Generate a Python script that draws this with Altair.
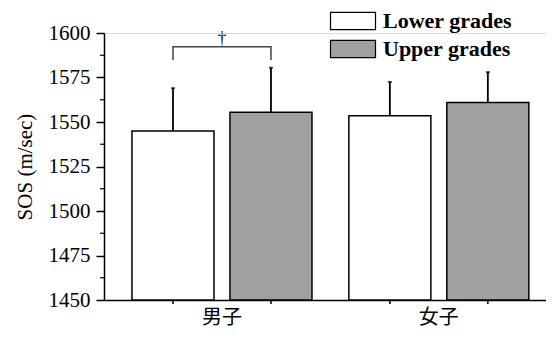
import altair as alt
import pandas as pd

groups = ["男子", "男子", "女子", "女子"]
grades = ["Lower grades", "Upper grades", "Lower grades", "Upper grades"]
means = [1545.0, 1555.5, 1553.5, 1561.0]
sds = [24.0, 25.0, 19.0, 17.0]

group_order = ["男子", "女子"]
grade_order = ["Lower grades", "Upper grades"]
fill_colors = ["#ffffff", "#a0a0a0"]

y_ticks = [1450, 1475, 1500, 1525, 1550, 1575, 1600]
y_minor = [1462.5, 1487.5, 1512.5, 1537.5, 1562.5, 1587.5]
y_base = 1450

# significance bracket between the two boys' bars
br_group = ["男子", "男子", "男子", "男子"]
br_grade = ["Lower grades", "Lower grades", "Upper grades", "Upper grades"]
br_y = [1584.8, 1592.3, 1592.3, 1584.8]
br_order = [0, 1, 2, 3]
sig_label = ["†"]
sig_group = ["男子"]
sig_y = [1594.0]

W, H = 442, 267
FONT = "Liberation Serif"

df = pd.DataFrame({"group": groups, "grade": grades, "mean": means, "sd": sds})
df["top"] = df["mean"] + df["sd"]
df_minor = pd.DataFrame({"v": y_minor})
df_br = pd.DataFrame({"group": br_group, "grade": br_grade, "y": br_y, "o": br_order})
df_sig = pd.DataFrame({"group": sig_group, "label": sig_label, "y": sig_y})

x_enc = alt.X("group:N", sort=group_order, title=None,
              scale=alt.Scale(paddingInner=0.17, paddingOuter=0.104, align=0.62),
              axis=alt.Axis(labelAngle=0, ticks=False, labelFont="Noto Sans CJK JP",
                            labelFontSize=20, labelColor="black", labelPadding=7,
                            labelBaseline="top",
                            domainColor="black", domainWidth=1.5))
xo_enc = alt.XOffset("grade:N", sort=grade_order,
                     scale=alt.Scale(paddingInner=0.163, paddingOuter=0))
y_scale = alt.Scale(domain=[1450, 1600], nice=False, zero=False)

bars = alt.Chart(df).mark_bar(stroke="black", strokeWidth=1.5).encode(
    x=x_enc,
    xOffset=xo_enc,
    y=alt.Y("mean:Q", scale=y_scale, title="SOS (m/sec)",
            axis=alt.Axis(values=y_ticks, format="d", tickSize=8, tickWidth=1.5,
                          tickColor="black", domainColor="black", domainWidth=1.5,
                          grid=False, labelFont=FONT, labelFontSize=21, labelColor="black",
                          labelPadding=6, titleFont=FONT, titleFontSize=21,
                          titleFontWeight="normal", titleColor="black", titlePadding=13)),
    y2=alt.datum(y_base),
    fill=alt.Fill("grade:N", sort=grade_order,
                  scale=alt.Scale(domain=grade_order, range=fill_colors),
                  legend=alt.Legend(title=None, orient="none", legendX=238, legendY=-23,
                                    symbolType="M-2.5,-0.95H2.5V0.95H-2.5Z", symbolSize=324,
                                    symbolStrokeColor="black", symbolStrokeWidth=1.2,
                                    labelFont=FONT, labelFontSize=22, labelFontWeight="bold",
                                    labelColor="black", labelOffset=19, rowPadding=6,
                                    padding=0)),
)

err = alt.Chart(df).mark_rule(color="black", strokeWidth=1.8).encode(
    x=x_enc, xOffset=xo_enc, y=alt.Y("mean:Q", scale=y_scale), y2="top:Q")

caps = alt.Chart(df).mark_tick(color="black", orient="horizontal", size=4, thickness=2).encode(
    x=x_enc, xOffset=xo_enc, y=alt.Y("top:Q", scale=y_scale))

xticks = alt.Chart(df).mark_rule(color="black", strokeWidth=1.5).encode(
    x=x_enc, xOffset=xo_enc, y=alt.value(H), y2=alt.value(H + 4))

minor = alt.Chart(df_minor).mark_rule(color="black", strokeWidth=1.2).encode(
    y=alt.Y("v:Q", scale=y_scale), x=alt.value(-4), x2=alt.value(0))

bracket = alt.Chart(df_br).mark_line(color="#444444", strokeWidth=1.5).encode(
    x=x_enc, xOffset=xo_enc, y=alt.Y("y:Q", scale=y_scale), order="o:Q")

sig = alt.Chart(df_sig).mark_text(font=FONT, fontSize=18, baseline="alphabetic").encode(
    x=x_enc, y=alt.Y("y:Q", scale=y_scale), text="label:N",
    color=alt.value("#222222"))

chart = alt.layer(bars, err, caps, xticks, minor, bracket, sig).properties(
    width=W, height=H,
    autosize=alt.AutoSizeParams(type="none"),
    padding={"left": 96, "top": 25, "right": 0, "bottom": 31},
).configure_view(stroke=None).configure_axis(grid=False).configure(background="white")

chart.save("out.html", embed_options={"renderer": "svg", "actions": False})
